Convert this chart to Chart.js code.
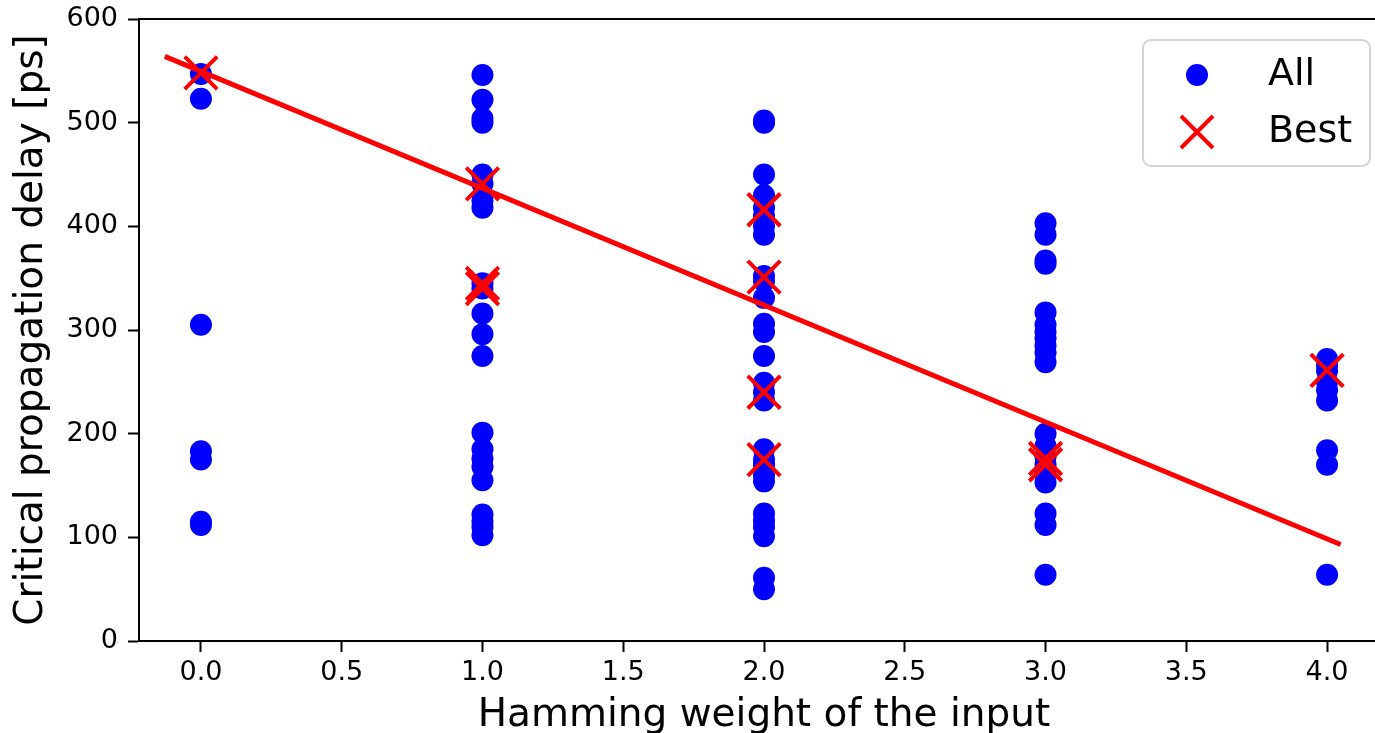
<!DOCTYPE html>
<html><head><meta charset="utf-8">
<script src="https://cdn.jsdelivr.net/npm/chart.js@4.4.1/dist/chart.umd.min.js"></script>
<style>html,body{margin:0;padding:0;overflow:hidden;background:#fff;width:1375px;height:733px}canvas{display:block}</style>
</head><body>
<canvas id="c" width="1390" height="733"></canvas>
<script>
// Hamming weights (x categories)
const weights = [0, 1, 2, 3, 4];
// "All" delays per Hamming weight [ps]
const allHW0 = [547, 523, 305, 183, 175, 115, 112];
const allHW1 = [546, 522, 504, 500, 450, 441, 425, 418, 345, 340, 316, 296, 275, 201, 185, 176, 168, 155, 122, 115, 110, 102];
const allHW2 = [502, 500, 450, 430, 418, 410, 400, 392, 352, 347, 331, 306, 298, 275, 249, 240, 232, 185, 175, 170, 160, 154, 123, 116, 110, 101, 61, 50];
const allHW3 = [403, 392, 367, 364, 317, 305, 298, 292, 285, 278, 269, 200, 188, 178, 170, 162, 153, 123, 112, 64];
const allHW4 = [272, 266, 261, 250, 242, 232, 184, 170, 64];
// "Best" delays per Hamming weight [ps]
const bestHW0 = [548];
const bestHW1 = [441, 345, 340];
const bestHW2 = [416, 351, 240, 175];
const bestHW3 = [176, 170];
const bestHW4 = [261];
// Linear fit endpoints
const fitX = [-0.12, 4.04];
const fitY = [563, 94];
// Tick settings
const xTickStep = 0.5;
const yTickStep = 100;
const seriesLabels = ['All', 'Best'];

const allByWeight = [allHW0, allHW1, allHW2, allHW3, allHW4];
const bestByWeight = [bestHW0, bestHW1, bestHW2, bestHW3, bestHW4];
const allPoints = weights.flatMap((w, i) => allByWeight[i].map(v => ({x: w, y: v})));
const bestPoints = weights.flatMap((w, i) => bestByWeight[i].map(v => ({x: w, y: v})));
const fitPoints = fitX.map((x, i) => ({x, y: fitY[i]}));

const FONT = '"DejaVu Sans", sans-serif';

const extras = {
  id: 'extras',
  afterDatasetsDraw(chart) {
    const ctx = chart.ctx;
    const a = chart.chartArea;
    ctx.save();
    // top spine
    ctx.strokeStyle = '#000';
    ctx.lineWidth = 2;
    ctx.beginPath();
    ctx.moveTo(a.left - 1, a.top);
    ctx.lineTo(a.right, a.top);
    ctx.stroke();
    // legend
    const lx = 1143, ly = 40, lw = 227, lh = 126, r = 8;
    ctx.beginPath();
    ctx.moveTo(lx + r, ly);
    ctx.arcTo(lx + lw, ly, lx + lw, ly + lh, r);
    ctx.arcTo(lx + lw, ly + lh, lx, ly + lh, r);
    ctx.arcTo(lx, ly + lh, lx, ly, r);
    ctx.arcTo(lx, ly, lx + lw, ly, r);
    ctx.closePath();
    ctx.fillStyle = 'rgba(255,255,255,0.8)';
    ctx.fill();
    ctx.strokeStyle = '#d4d4d4';
    ctx.lineWidth = 2;
    ctx.stroke();
    // markers
    ctx.fillStyle = '#0000ff';
    ctx.beginPath();
    ctx.arc(1197, 75, 11, 0, Math.PI * 2);
    ctx.fill();
    ctx.strokeStyle = '#ff0000';
    ctx.lineWidth = 4;
    const s = 16;
    ctx.beginPath();
    ctx.moveTo(1197 - s, 132 - s); ctx.lineTo(1197 + s, 132 + s);
    ctx.moveTo(1197 + s, 132 - s); ctx.lineTo(1197 - s, 132 + s);
    ctx.stroke();
    ctx.fillStyle = '#000';
    ctx.font = '38px ' + FONT;
    ctx.textBaseline = 'alphabetic';
    ctx.textAlign = 'left';
    ctx.fillText(chart.data.datasets[2].label, 1268, 85);
    ctx.fillText(chart.data.datasets[1].label, 1268, 142);
    ctx.restore();
  }
};

new Chart(document.getElementById('c'), {
  type: 'scatter',
  data: {
    datasets: [
      {
        type: 'line', label: 'fit', data: fitPoints,
        borderColor: '#ff0000', borderWidth: 5, pointRadius: 0,
        borderCapStyle: 'square', fill: false, order: 0
      },
      {
        label: seriesLabels[1], data: bestPoints,
        pointStyle: 'crossRot', pointRadius: 23,
        borderColor: '#ff0000', backgroundColor: '#ff0000', pointBorderWidth: 4, order: 1
      },
      {
        label: seriesLabels[0], data: allPoints,
        pointStyle: 'circle', pointRadius: 11,
        backgroundColor: '#0000ff', borderColor: '#0000ff', pointBorderWidth: 0, order: 2
      }
    ]
  },
  options: {
    responsive: false,
    animation: false,
    events: [],
    layout: {autoPadding: false, padding: {top: 19, right: 1, left: 0, bottom: 0}},
    plugins: {legend: {display: false}, tooltip: {enabled: false}},
    scales: {
      x: {
        type: 'linear', min: -0.22, max: 4.22,
        afterFit(scale) { scale.height = 92; scale.paddingLeft = 0; scale.paddingRight = 0; },
        border: {color: '#000', width: 2},
        grid: {drawOnChartArea: false, drawTicks: true, tickLength: 11, tickWidth: 2, tickColor: '#000'},
        ticks: {
          stepSize: xTickStep, includeBounds: false, padding: 5, color: '#000',
          font: {family: FONT, size: 27},
          callback: v => Number(v).toFixed(1)
        },
        title: {
          display: true, text: 'Hamming weight of the input', color: '#000',
          font: {family: FONT, size: 39, lineHeight: 1},
          padding: {top: 0, bottom: -2}
        }
      },
      y: {
        type: 'linear', min: 0, max: 600,
        afterFit(scale) { scale.width = 139; scale.paddingTop = 0; scale.paddingBottom = 0; },
        border: {color: '#000', width: 2},
        grid: {drawOnChartArea: false, drawTicks: true, tickLength: 11, tickWidth: 2, tickColor: '#000'},
        ticks: {
          stepSize: yTickStep, includeBounds: false, padding: 10, color: '#000',
          font: {family: FONT, size: 27}
        },
        title: {
          display: true, text: 'Critical propagation delay [ps]', color: '#000',
          font: {family: FONT, size: 39, lineHeight: 1},
          padding: {top: 12, bottom: 0}
        }
      }
    }
  },
  plugins: [extras]
});
</script>
</body></html>
